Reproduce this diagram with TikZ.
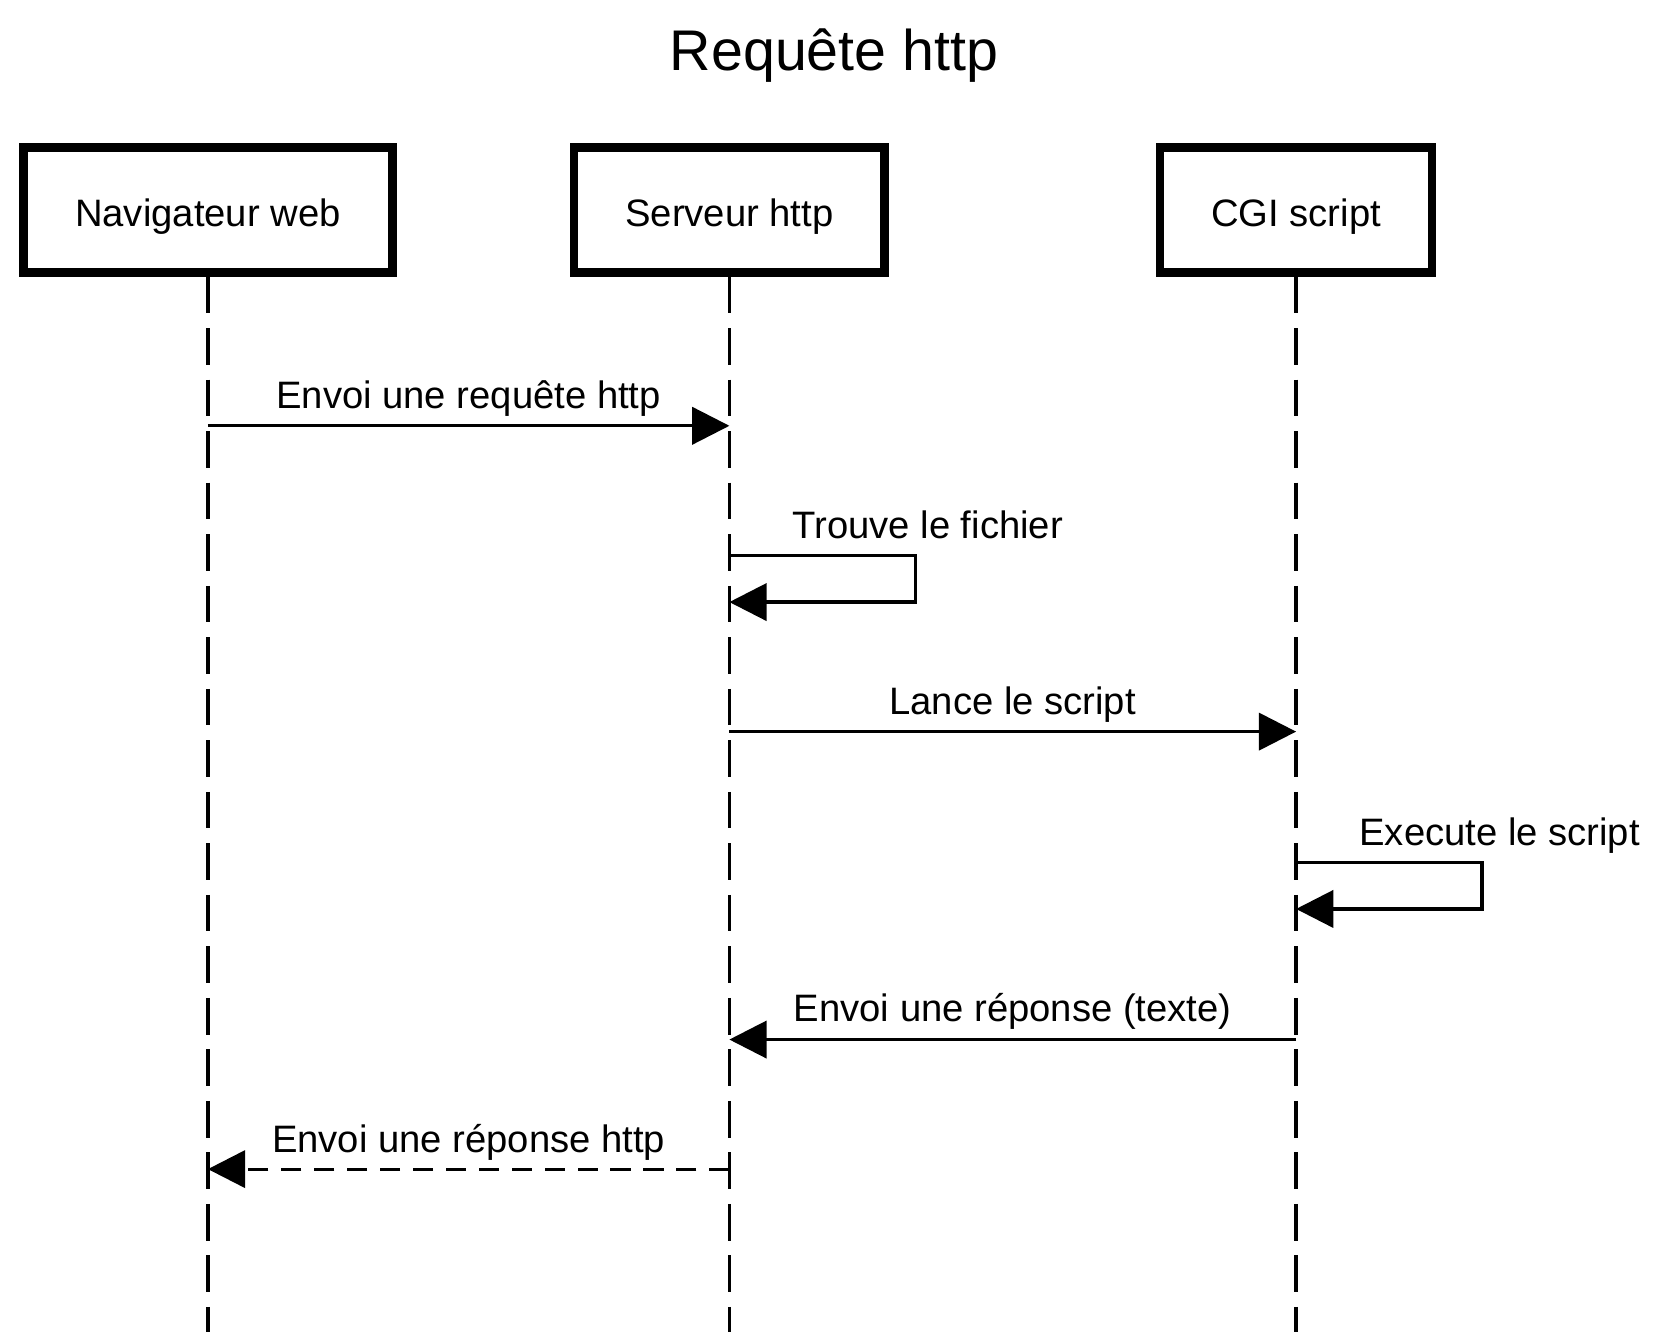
\documentclass[tikz,border=0pt]{standalone}
\usepackage{fontspec}
\setmainfont{Liberation Sans}
\usetikzlibrary{arrows.meta}
\begin{document}
\begin{tikzpicture}[x=0.025cm,y=-0.025cm,
  actor/.style={draw,line width=0.1975cm,minimum height=2.94cm,inner sep=0pt,
    text height=0.78cm,text depth=0pt,font=\fontsize{25.6}{30}\selectfont},
  life/.style={line width=0.0875cm,dash pattern=on 0.8625cm off 0.35cm},
  msg/.style={line width=0.075cm,-{Triangle[length=0.875cm,width=0.875cm]}},
  ret/.style={msg,dash pattern=on 0.475cm off 0.3cm},
  lbl/.style={font=\fontsize{25.6}{30}\selectfont,inner sep=0pt,anchor=base},
  lbll/.style={lbl,anchor=base west}]
\useasboundingbox (0,0) rectangle (1568,1254);
\node[font=\fontsize{38.4}{46}\selectfont,inner sep=0pt,anchor=base] (title) at (785.5,66) {Requête http};
\node[actor,minimum width=8.685cm] (nav) at (195.8,197.8) {Navigateur web};
\node[actor,minimum width=7.31cm] (srv) at (686.9,197.8) {Serveur http};
\node[actor,minimum width=6.41cm] (cgi) at (1220.6,197.8) {CGI script};
\coordinate (navend) at (195.8,1254);
\coordinate (srvend) at (686.9,1254);
\coordinate (cgiend) at (1220.6,1254);
\draw[life] (nav.south) -- (navend);
\draw[life] (srv.south) -- (srvend);
\draw[life] (cgi.south) -- (cgiend);
% message 1
\coordinate (m1a) at (195.8,401);
\coordinate (m1b) at (686.9,401);
\draw[msg] (m1a) -- (m1b);
\node[lbl] (l1) at (441.3,385) {Envoi une requête http};
% self loop 2
\coordinate (m2a) at (686.9,523);
\coordinate (m2b) at (686.9,567);
\draw[msg] (m2a) -- ++(175,0) |- (m2b);
\node[lbll] (l2) at (746,507) {Trouve le fichier};
% message 3
\coordinate (m3a) at (686.9,689);
\coordinate (m3b) at (1220.6,689);
\draw[msg] (m3a) -- (m3b);
\node[lbl] (l3) at (953.7,673) {Lance le script};
% self loop 4
\coordinate (m4a) at (1220.6,812);
\coordinate (m4b) at (1220.6,856);
\draw[msg] (m4a) -- ++(175,0) |- (m4b);
\node[lbll] (l4) at (1280,796) {Execute le script};
% message 5
\coordinate (m5a) at (1220.6,979);
\coordinate (m5b) at (686.9,979);
\draw[msg] (m5a) -- (m5b);
\node[lbl] (l5) at (953.7,962) {Envoi une réponse (texte)};
% message 6
\coordinate (m6a) at (686.9,1101);
\coordinate (m6b) at (195.8,1101);
\draw[ret] (m6a) -- (m6b);
\node[lbl] (l6) at (441.3,1085) {Envoi une réponse http};
\end{tikzpicture}
\end{document}
